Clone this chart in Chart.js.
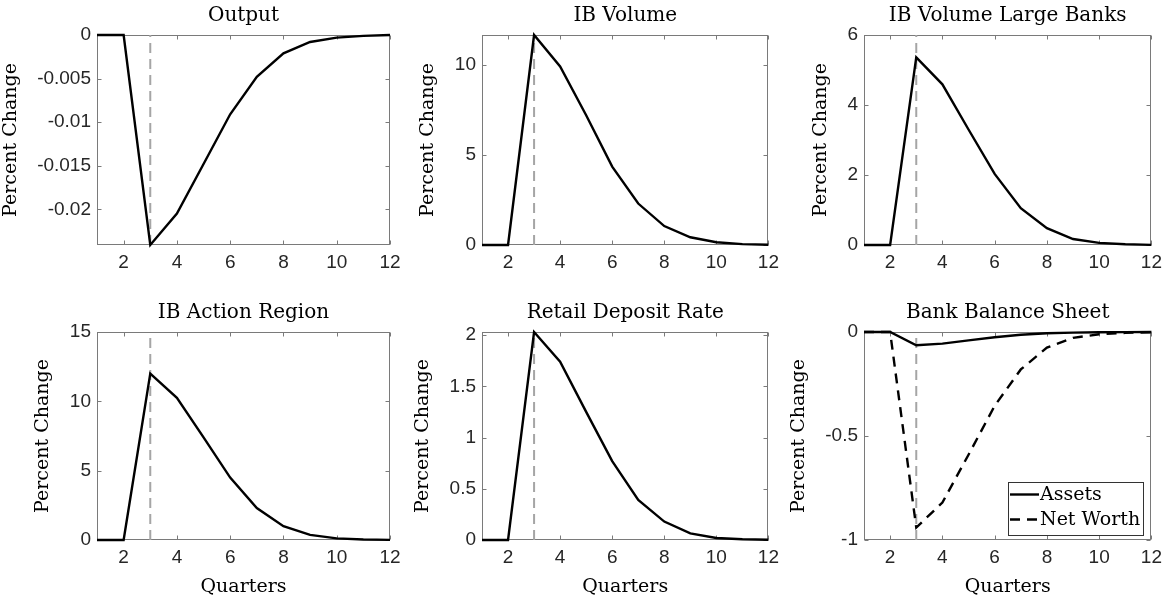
<!DOCTYPE html>
<html>
<head>
<meta charset="utf-8">
<title>Impulse responses</title>
<script src="https://cdn.jsdelivr.net/npm/chart.js@4.4.1/dist/chart.umd.min.js"></script>
<style>
  html, body { margin: 0; padding: 0; background: #fff; }
  body { position: relative; width: 1168px; height: 598px; overflow: hidden; }
  canvas { position: absolute; }
</style>
</head>
<body>
<canvas id="c1"></canvas>
<canvas id="c2"></canvas>
<canvas id="c3"></canvas>
<canvas id="c4"></canvas>
<canvas id="c5"></canvas>
<canvas id="c6"></canvas>
<script>
// quarters after the shock, and the responses (percent change)
const quarters = [1, 2, 3, 4, 5, 6, 7, 8, 9, 10, 11, 12];
const shockQuarter = 3;

const output      = [0, 0, -0.0241, -0.0205, -0.0148, -0.0091, -0.0048, -0.0021, -0.0008, -0.0003, -0.0001, 0];
const ibVolume    = [0, 0, 11.65, 9.9, 7.2, 4.35, 2.3, 1.05, 0.43, 0.15, 0.05, 0.015];
const ibVolLarge  = [0, 0, 5.36, 4.59, 3.3, 2.03, 1.05, 0.48, 0.17, 0.06, 0.02, 0.005];
const ibRegion    = [0, 0, 12.0, 10.25, 7.4, 4.5, 2.3, 1.0, 0.37, 0.12, 0.04, 0.01];
const depositRate = [0, 0, 2.03, 1.74, 1.25, 0.77, 0.39, 0.18, 0.065, 0.02, 0.007, 0.002];
const assets      = [0, 0, -0.064, -0.056, -0.04, -0.025, -0.013, -0.006, -0.003, -0.001, -0.0005, -0.0002];
const netWorth    = [0, 0, -0.94, -0.82, -0.59, -0.355, -0.18, -0.075, -0.028, -0.011, -0.004, -0.001];

// axis ticks and limits
const xTicks         = [2, 4, 6, 8, 10, 12];
const outputTicks    = [-0.02, -0.015, -0.01, -0.005, 0];
const ibVolumeTicks  = [0, 5, 10];
const ibLargeTicks   = [0, 2, 4, 6];
const ibRegionTicks  = [0, 5, 10, 15];
const depositTicks   = [0, 0.5, 1, 1.5, 2];
const balanceTicks   = [-1, -0.5, 0];

const SERIF = '"DejaVu Serif", serif';
const SANS = '"Liberation Sans", Arial, sans-serif';

// frame around the plot with inward tick marks
const framePlugin = {
  id: 'frame',
  beforeDatasetsDraw(chart) {
    const { ctx, chartArea: a, scales: { x, y } } = chart;
    const l = Math.round(a.left) + 0.5, r = Math.round(a.right) - 0.5;
    const t = Math.round(a.top) + 0.5, b = Math.round(a.bottom) - 0.5;
    ctx.save();
    ctx.strokeStyle = '#7a7a7a';
    ctx.lineWidth = 1;
    ctx.strokeRect(l, t, r - l, b - t);
    ctx.beginPath();
    x.ticks.forEach(tk => {
      const px = Math.round(x.getPixelForValue(tk.value)) + 0.5;
      ctx.moveTo(px, b); ctx.lineTo(px, b - 4);
      ctx.moveTo(px, t); ctx.lineTo(px, t + 4);
    });
    y.ticks.forEach(tk => {
      const py = Math.round(y.getPixelForValue(tk.value)) + 0.5;
      ctx.moveTo(l, py); ctx.lineTo(l + 4, py);
      ctx.moveTo(r, py); ctx.lineTo(r - 4, py);
    });
    ctx.stroke();
    ctx.restore();
  }
};

// panel title, centred over the plot area rather than the whole canvas
const plotTitle = {
  id: 'plotTitle',
  afterDraw(chart, args, opts) {
    const { ctx, chartArea: a } = chart;
    ctx.save();
    ctx.font = '20px ' + SERIF;
    ctx.fillStyle = '#000';
    ctx.textAlign = 'center';
    ctx.textBaseline = 'middle';
    ctx.fillText(opts.text, (a.left + a.right) / 2, a.top - 19);
    ctx.restore();
  }
};

// boxed legend in the lower right corner of the plot
const boxLegend = {
  id: 'boxLegend',
  afterDraw(chart, args, opts) {
    if (!opts.show) return;
    const { ctx, chartArea: a } = chart;
    const items = chart.data.datasets.filter(d => d.inLegend);
    ctx.save();
    ctx.font = '19px ' + SERIF;
    const tw = Math.max(...items.map(d => ctx.measureText(d.label).width));
    const rowH = 25;
    const w = Math.round(32 + tw + 3), h = items.length * rowH + 3;
    const r = Math.round(a.right) - 8, bt = Math.round(a.bottom) - 5;
    const l = r - w, t = bt - h;
    ctx.fillStyle = '#fff';
    ctx.fillRect(l, t, w, h);
    ctx.strokeStyle = '#333';
    ctx.lineWidth = 1;
    ctx.strokeRect(l + 0.5, t + 0.5, w, h);
    items.forEach((d, i) => {
      const cy = t + 12.5 + i * rowH;
      ctx.beginPath();
      ctx.setLineDash(d.borderDash || []);
      ctx.strokeStyle = d.borderColor;
      ctx.lineWidth = d.borderWidth;
      ctx.moveTo(l + 2, cy); ctx.lineTo(l + 31, cy);
      ctx.stroke();
      ctx.setLineDash([]);
      ctx.fillStyle = '#000';
      ctx.textBaseline = 'middle';
      ctx.fillText(d.label, l + 32, cy + 1);
    });
    ctx.restore();
  }
};

function series(label, values, dash) {
  return {
    label, inLegend: true,
    data: quarters.map((q, i) => ({ x: q, y: values[i] })),
    borderColor: '#000', borderWidth: 2.4, borderDash: dash || [],
    pointRadius: 0, tension: 0, clip: false
  };
}

function shockLine(yMin, yMax) {
  return {
    label: 'shock', inLegend: false,
    data: [{ x: shockQuarter, y: yMin }, { x: shockQuarter, y: yMax }],
    borderColor: '#a5a5a5', borderWidth: 2, borderDash: [10, 6],
    pointRadius: 0, clip: false
  };
}

const panels = [
  { id: 'c1', title: 'Output', lines: [series('Output', output)], yMin: -0.0241, yMax: 0, yTicks: outputTicks,
    box: [0, 0, 410, 290], area: [97, 35, 390, 245] },
  { id: 'c2', title: 'IB Volume', lines: [series('IB Volume', ibVolume)], yMin: 0, yMax: 11.65, yTicks: ibVolumeTicks,
    box: [410, 0, 375, 290], area: [482, 35, 773, 245] },
  { id: 'c3', title: 'IB Volume Large Banks', lines: [series('IB Volume Large Banks', ibVolLarge)], yMin: 0, yMax: 6, yTicks: ibLargeTicks,
    box: [785, 0, 383, 290], area: [864, 35, 1157, 245] },
  { id: 'c4', title: 'IB Action Region', lines: [series('IB Action Region', ibRegion)], yMin: 0, yMax: 15, yTicks: ibRegionTicks,
    box: [0, 290, 410, 308], area: [97, 332, 390, 540], xTitle: true },
  { id: 'c5', title: 'Retail Deposit Rate', lines: [series('Retail Deposit Rate', depositRate)], yMin: 0, yMax: 2.03, yTicks: depositTicks,
    box: [410, 290, 375, 308], area: [482, 332, 773, 540], xTitle: true },
  { id: 'c6', title: 'Bank Balance Sheet', lines: [series('Assets', assets), series('Net Worth', netWorth, [10, 7])], yMin: -1, yMax: 0, yTicks: balanceTicks,
    box: [785, 290, 383, 308], area: [864, 332, 1157, 540], xTitle: true, legend: true }
];

// nudge layout padding until the plot area sits where it should
function fitArea(chart, p) {
  const [bx, by, bw, bh] = p.box, [l, t, r, b] = p.area;
  for (let i = 0; i < 4; i++) {
    const ca = chart.chartArea, pad = chart.options.layout.padding;
    const dl = (l - bx) - ca.left, dt = (t - by) - ca.top;
    const dr = (bx + bw - r) - (bw - ca.right), db = (by + bh - b) - (bh - ca.bottom);
    if (Math.abs(dl) + Math.abs(dt) + Math.abs(dr) + Math.abs(db) < 0.5) break;
    pad.left += dl; pad.top += dt; pad.right += dr; pad.bottom += db;
    chart.update('none');
  }
}

panels.forEach(p => {
  const cv = document.getElementById(p.id);
  cv.width = p.box[2]; cv.height = p.box[3];
  cv.style.left = p.box[0] + 'px'; cv.style.top = p.box[1] + 'px';

  const chart = new Chart(cv, {
    type: 'line',
    data: { datasets: [...p.lines, shockLine(p.yMin, p.yMax)] },
    options: {
      responsive: false, animation: false, events: [],
      layout: { padding: { left: 0, top: 30, right: 12, bottom: 0 } },
      plugins: {
        legend: { display: false },
        tooltip: { enabled: false },
        title: { display: false },
        plotTitle: { text: p.title },
        boxLegend: { show: !!p.legend }
      },
      scales: {
        x: {
          type: 'linear', min: 1, max: 12,
          afterBuildTicks: s => { s.ticks = xTicks.map(v => ({ value: v })); },
          grid: { display: false, drawTicks: false }, border: { display: false },
          ticks: { color: '#262626', font: { family: SANS, size: 19 }, padding: 6, maxRotation: 0, autoSkip: false },
          title: { display: !!p.xTitle, text: 'Quarters', color: '#000',
                   font: { family: SERIF, size: 19 }, padding: { top: 1, bottom: 0 } }
        },
        y: {
          type: 'linear', min: p.yMin, max: p.yMax,
          afterBuildTicks: s => { s.ticks = p.yTicks.map(v => ({ value: v })); },
          grid: { display: false, drawTicks: false }, border: { display: false },
          ticks: { color: '#262626', font: { family: SANS, size: 19 }, padding: 6, callback: v => String(v) },
          title: { display: true, text: 'Percent Change', color: '#000',
                   font: { family: SERIF, size: 19 }, padding: { top: 0, bottom: 9 } }
        }
      }
    },
    plugins: [framePlugin, plotTitle, boxLegend]
  });
  fitArea(chart, p);
});
</script>
</body>
</html>
